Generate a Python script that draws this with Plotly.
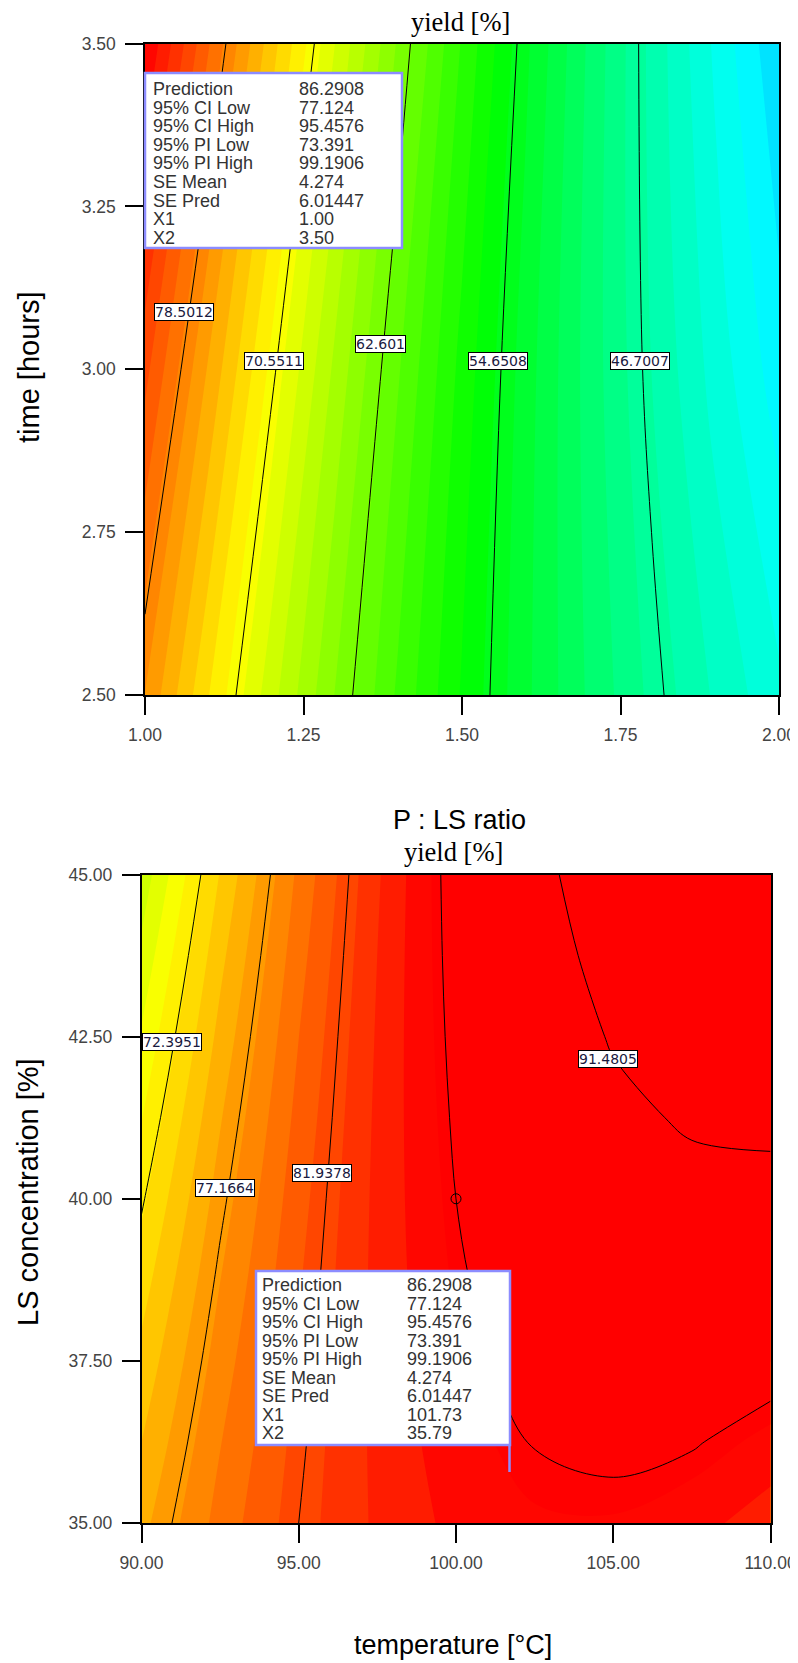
import plotly.graph_objects as go

# ---------------- data: top panel (yield vs LS ratio X1 and time X2) ----------------
top_x1 = [1.0, 1.1, 1.2, 1.3, 1.4, 1.5, 1.6, 1.7, 1.8, 1.9, 2.0]
top_x2 = [2.5, 3.0, 3.5]
top_z = [
    [77.46, 72.55, 67.96, 63.69, 59.74, 56.11, 52.80, 49.81, 47.14, 44.79, 42.76],
    [81.66, 76.10, 70.86, 65.94, 61.35, 57.08, 53.13, 49.50, 46.20, 43.22, 40.56],
    [86.29, 80.12, 74.27, 68.73, 63.52, 58.62, 54.05, 49.79, 45.86, 42.24, 38.95],
]
top_levels = [46.7007, 54.6508, 62.601, 70.5511, 78.5012]
top_label_text = ["78.5012", "70.5511", "62.601", "54.6508", "46.7007"]
top_label_x1 = [1.062, 1.203, 1.372, 1.556, 1.780]
top_label_x2 = [3.088, 3.013, 3.038, 3.013, 3.013]
top_xticks = [1.00, 1.25, 1.50, 1.75, 2.00]
top_xticktext = ["1.00", "1.25", "1.50", "1.75", "2.00"]
top_yticks = [2.50, 2.75, 3.00, 3.25, 3.50]
top_yticktext = ["2.50", "2.75", "3.00", "3.25", "3.50"]

# ---------------- data: bottom panel (yield vs temperature and LS concentration) ----------------
bot_x1 = [90.0, 92.5, 95.0, 97.5, 100.0, 102.5, 105.0, 107.5, 110.0]
bot_x2 = [35.0, 36.25, 37.5, 38.75, 40.0, 41.25, 42.5, 43.75, 45.0]
bot_z = [
    [75.86, 79.23, 81.94, 83.98, 85.36, 86.08, 86.14, 85.53, 84.26],
    [75.00, 78.69, 81.70, 84.06, 85.75, 86.79, 87.15, 86.86, 85.90],
    [74.11, 78.10, 81.44, 84.10, 86.11, 87.45, 88.14, 88.15, 87.51],
    [73.18, 77.48, 81.13, 84.11, 86.43, 88.09, 89.08, 89.41, 89.08],
    [72.21, 76.83, 80.79, 84.08, 86.71, 88.68, 89.99, 90.63, 90.61],
    [71.20, 76.14, 80.40, 84.01, 86.95, 89.24, 90.85, 91.81, 92.10],
    [70.16, 75.40, 79.99, 83.90, 87.16, 89.75, 91.69, 92.95, 93.56],
    [69.08, 74.64, 79.53, 83.76, 87.33, 90.24, 92.48, 94.06, 94.98],
    [67.96, 73.83, 79.04, 83.58, 87.46, 90.68, 93.24, 95.13, 96.36],
]
bot_levels = [72.3951, 77.1664, 81.9378, 86.7091, 91.4805]
bot_label_text = ["72.3951", "77.1664", "81.9378", "91.4805"]
bot_label_x1 = [90.98, 92.66, 95.74, 104.83]
bot_label_x2 = [42.42, 40.16, 40.39, 42.15]
bot_xticks = [90, 95, 100, 105, 110]
bot_xticktext = ["90.00", "95.00", "100.00", "105.00", "110.00"]
bot_yticks = [35.0, 37.5, 40.0, 42.5, 45.0]
bot_yticktext = ["35.00", "37.50", "40.00", "42.50", "45.00"]
center_point_x1 = [100.0]
center_point_x2 = [40.0]

# ---------------- prediction box text ----------------
box_labels = ["Prediction", "95% CI Low", "95% CI High", "95% PI Low", "95% PI High",
              "SE Mean", "SE Pred", "X1", "X2"]
top_box_values = ["86.2908", "77.124", "95.4576", "73.391", "99.1906", "4.274", "6.01447", "1.00", "3.50"]
bot_box_values = ["86.2908", "77.124", "95.4576", "73.391", "99.1906", "4.274", "6.01447", "101.73", "35.79"]

# ---------------- figure ----------------
OFF = 8                      # page body margin
W, H = 798 - OFF, 1663 - OFF
def px(x):
    return (x - OFF) / W
def py(y):
    return 1 - (y - OFF) / H

cs = [[0.0, "rgb(0,0,255)"], [0.25, "rgb(0,255,255)"], [0.5, "rgb(0,255,0)"],
      [0.75, "rgb(255,255,0)"], [1.0, "rgb(255,0,0)"]]
ZMIN, ZMAX = 26, 86

fig = go.Figure()

def add_panel(x, y, z, levels, xa, ya):
    fig.add_trace(go.Contour(
        x=x, y=y, z=z, xaxis=xa, yaxis=ya,
        colorscale=cs, zmin=ZMIN, zmax=ZMAX, zauto=False,
        contours=dict(coloring="fill", start=20, end=100, size=1.25, showlines=False),
        line=dict(width=0, smoothing=1), showscale=False, hoverinfo="skip"))
    n = len(levels)
    fig.add_trace(go.Contour(
        x=x, y=y, z=z, xaxis=xa, yaxis=ya,
        contours=dict(coloring="none", start=min(levels), end=max(levels),
                      size=(max(levels) - min(levels)) / (n - 1), showlabels=False),
        line=dict(color="black", width=1, smoothing=1), showscale=False, hoverinfo="skip"))

add_panel(top_x1, top_x2, top_z, top_levels, "x", "y")
add_panel(bot_x1, bot_x2, bot_z, bot_levels, "x2", "y2")

fig.add_trace(go.Scatter(x=center_point_x1, y=center_point_x2, xaxis="x2", yaxis="y2",
                         mode="markers", marker=dict(symbol="circle-open", size=10,
                                                      color="black", line=dict(width=1)),
                         showlegend=False, hoverinfo="skip"))

tickfont = dict(family="Arial, Liberation Sans, sans-serif", size=17.5, color="#444444")
axis_common = dict(showline=True, linecolor="black", linewidth=1.5, mirror=True,
                   ticks="outside", ticklen=18, tickwidth=1.5, tickcolor="black",
                   showgrid=False, zeroline=False, tickfont=tickfont, tickmode="array",
                   automargin=False, ticklabeloverflow="allow")

fig.update_layout(
    width=W, height=H, margin=dict(l=0, r=0, t=0, b=0, pad=0, autoexpand=False),
    paper_bgcolor="white", plot_bgcolor="white", showlegend=False,
    xaxis=dict(domain=[px(145), px(779)], anchor="y", range=[1, 2],
               tickvals=top_xticks, ticktext=top_xticktext, ticklabelstandoff=5, **axis_common),
    yaxis=dict(domain=[py(695), py(43.5)], anchor="x", range=[2.5, 3.5],
               tickvals=top_yticks, ticktext=top_yticktext, ticklabelstandoff=6, **axis_common),
    xaxis2=dict(domain=[px(141.5), px(770.5)], anchor="y2", range=[90, 110],
                tickvals=bot_xticks, ticktext=bot_xticktext, ticklabelstandoff=5, **axis_common),
    yaxis2=dict(domain=[py(1523), py(874.5)], anchor="x2", range=[35, 45],
                tickvals=bot_yticks, ticktext=bot_yticktext, ticklabelstandoff=6, **axis_common),
)

annotations = []
serif = "Times New Roman, Liberation Serif, serif"
sans = "Arial, Liberation Sans, sans-serif"
wide = "DejaVu Sans, Verdana, sans-serif"

def text_ann(x, y, text, family, size, angle=0, xanchor="center", color="black"):
    annotations.append(dict(x=px(x), y=py(y), xref="paper", yref="paper", text=text,
                            showarrow=False, xanchor=xanchor, yanchor="middle",
                            textangle=angle, font=dict(family=family, size=size, color=color)))

# titles
text_ann(460, 22, "yield [%]", serif, 26.5)
text_ann(459, 820, "P : LS ratio", sans, 27)
text_ann(453, 852, "yield [%]", serif, 26.5)
text_ann(29, 367, "time [hours]", sans, 29, angle=-90)
text_ann(28, 1192, "LS concentration [%]", sans, 29, angle=-90)
text_ann(453, 1645, "temperature [°C]", sans, 27)

# contour labels
for t, xx, yy in zip(top_label_text, top_label_x1, top_label_x2):
    annotations.append(dict(x=xx, y=yy, xref="x", yref="y", text=t, showarrow=False,
                            bgcolor="white", bordercolor="black", borderwidth=1, borderpad=0,
                            font=dict(family=wide, size=14, color="#1a1a40")))
for t, xx, yy in zip(bot_label_text, bot_label_x1, bot_label_x2):
    annotations.append(dict(x=xx, y=yy, xref="x2", yref="y2", text=t, showarrow=False,
                            bgcolor="white", bordercolor="black", borderwidth=1, borderpad=0,
                            font=dict(family=wide, size=14, color="#1a1a40")))

# prediction boxes
shapes = []
boxline = "rgb(140,140,255)"
shapes.append(dict(type="rect", xref="paper", yref="paper", x0=px(145), x1=px(402),
                   y0=py(248), y1=py(73), fillcolor="white", line=dict(color=boxline, width=2.5),
                   layer="above"))
shapes.append(dict(type="rect", xref="paper", yref="paper", x0=px(256), x1=px(510),
                   y0=py(1445), y1=py(1271), fillcolor="white", line=dict(color=boxline, width=2.5),
                   layer="above"))
shapes.append(dict(type="line", xref="paper", yref="paper", x0=px(509.5), x1=px(509.5),
                   y0=py(1472), y1=py(1445), line=dict(color=boxline, width=2.5), layer="above"))

top_rows_y = [89, 108, 126.3, 145, 163.3, 182.3, 201, 219, 238]
bot_rows_y = [1285, 1304, 1322.3, 1340.7, 1359, 1378.3, 1396, 1415, 1433.3]
for lab, val, yy in zip(box_labels, top_box_values, top_rows_y):
    text_ann(151, yy, lab, sans, 18, xanchor="left", color="#333333")
    text_ann(297, yy, val, sans, 18, xanchor="left", color="#333333")
for lab, val, yy in zip(box_labels, bot_box_values, bot_rows_y):
    text_ann(260, yy, lab, sans, 18, xanchor="left", color="#333333")
    text_ann(405, yy, val, sans, 18, xanchor="left", color="#333333")

fig.update_layout(annotations=annotations, shapes=shapes)
fig.write_html("out.html")
